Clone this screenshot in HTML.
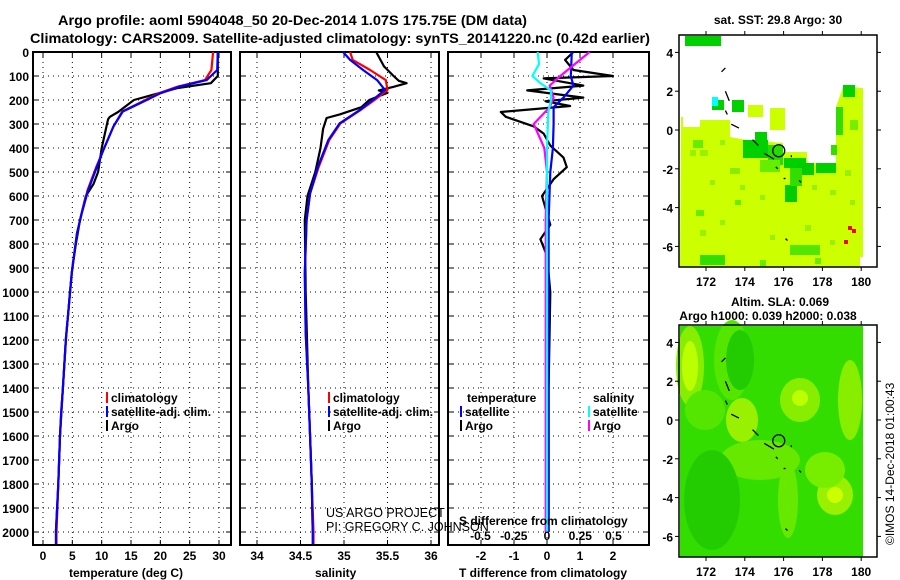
<!DOCTYPE html>
<html><head><meta charset="utf-8"><style>
html,body{margin:0;padding:0;background:#fff;}
svg{display:block;font-family:"Liberation Sans",sans-serif;}
.tk{font-size:12px;font-weight:bold;fill:#000;}
.ttl{font-size:14px;font-weight:bold;fill:#000;}
.lg{font-size:12px;font-weight:bold;fill:#000;}
.cr{font-size:12.5px;font-weight:normal;fill:#000;}
</style></head><body>
<svg id="c" width="900" height="580" viewBox="0 0 900 580">
<text class="ttl" x="58" y="25" textLength="469" lengthAdjust="spacingAndGlyphs">Argo profile: aoml 5904048_50 20-Dec-2014 1.07S 175.75E (DM data)</text>
<text class="ttl" x="30" y="43" textLength="620" lengthAdjust="spacingAndGlyphs">Climatology: CARS2009. Satellite-adjusted climatology: synTS_20141220.nc (0.42d earlier)</text>
<g id="g"></g>
</svg>
<script>
const depthT = [0,75,117,144,172,214,248,311,408,478,575,672,755,922,1089,1193,1400,1500,1600,1800,2000,2050];
const tempSat = [29.8,29.7,27.9,23.3,20,16.5,13.6,12,10.3,9.2,7.7,6.6,5.8,4.9,4.3,3.9,3.4,3.1,2.9,2.6,2.2,2.2];
const tempClim = [29.0,28.7,27.6,23.0,19.7,16.3,13.5,12,10.3,9.1,7.6,6.6,5.8,4.9,4.3,3.9,3.4,3.1,2.9,2.6,2.3,2.3];
const depthTA = [0,100,130,150,180,200,250,270,280,300,400,500,550,600,700,800,900,1000,1200,1400,1600,1800,2000];
const tempArgo = [29.8,29.8,28.6,23,18.5,15.5,12.8,11.4,11.1,10.9,10,9.4,8.6,7.3,6.3,5.6,5,4.6,3.9,3.4,2.9,2.6,2.2];

const depthS = [0,33,75,117,158,200,242,297,367,478,589,700,922,1172,1400,1600,1800,2000,2050];
const salSat = [34.99,35.07,35.22,35.38,35.47,35.33,35.18,34.95,34.82,34.70,34.61,34.57,34.55,34.56,34.59,34.61,34.63,34.64,34.64];
const salClim = [35.07,35.10,35.30,35.48,35.50,35.35,35.19,34.96,34.83,34.71,34.61,34.57,34.55,34.56,34.59,34.61,34.63,34.65,34.65];
const depthSA = [0,60,100,120,130,145,160,170,200,230,260,275,320,400,500,600,700,1000,1400,1800,2000];
const salArgo = [35.37,35.46,35.57,35.63,35.72,35.57,35.40,35.50,35.29,35.20,34.95,34.80,34.76,34.73,34.67,34.58,34.55,34.56,34.59,34.63,34.64];

const depthD = [0,33,75,100,110,140,160,190,205,225,250,270,310,340,390,440,480,530,600,720,780,850,1000,1400,2000];
const dTArgo = [0.8,0.55,0.8,2.0,-0.1,1.1,-0.6,1.1,-0.05,0.7,-1.4,-1.25,-0.4,-0.1,0.1,0.5,0.6,0.2,-0.15,0.1,-0.2,0,0.1,0.05,0.05];
const depthD2 = [0,100,140,190,230,300,400,500,700,1000,1500,2000];
const dTSat = [0.75,0.72,0.8,0.5,0.2,0.2,0.18,0.1,0.05,0.05,0.05,0.05];
const dSArgo = [0.32,0.1,0.02,0.05,0.02,-0.1,-0.02,0.0,-0.01,-0.01,-0.01,-0.01];
const depthD3 = [0,50,100,130,160,200,250,400,1000,2000];
const dSSat = [-0.07,-0.06,-0.11,-0.05,0.03,0.03,0.01,0.0,0.0,0.0];

const depthTicks = [0,100,200,300,400,500,600,700,800,900,1000,1100,1200,1300,1400,1500,1600,1700,1800,1900,2000];
const tTicks = [0,5,10,15,20,25,30];
const sTicks = [34,34.5,35,35.5,36];
const sTickLabels = ["34","34.5","35","35.5","36"];
const dtTicks = [-2,-1,0,1,2];
const dsTicks = [-0.5,-0.25,0,0.25,0.5];
const dsTickLabels = ["-0.5","-0.25","0","0.25","0.5"];
const lonTicks = [172,174,176,178,180];
const latTicks = [4,2,0,-2,-4,-6];

const NS="http://www.w3.org/2000/svg";
const G=document.getElementById('g');
function mk(t,a,p){const e=document.createElementNS(NS,t);for(const k in a)e.setAttribute(k,a[k]);(p||G).appendChild(e);return e;}
const yD=d=>52+0.24*d;
const P1={l:33,r:231,x:v=>43+(v)*5.867};
const P2={l:240,r:439,x:v=>257+(v-34)*87};
const P3={l:448,r:649,x:v=>547+v*33};
const xS3=v=>547+v*133;
const yTop=52,yBot=545;

function frame(P,name,xt,xl,xf){
  const g=mk('g',{});
  
  
  depthTicks.forEach(d=>{if(d>0){const l=mk('line',{x1:P.l,x2:P.r,y1:yD(d),y2:yD(d),stroke:'#000','stroke-width':1,'stroke-dasharray':'1,4'},g);
    
    }
    mk('line',{x1:P.l,x2:P.l+5,y1:yD(d),y2:yD(d),stroke:'#000'},g);mk('line',{x1:P.r-5,x2:P.r,y1:yD(d),y2:yD(d),stroke:'#000'},g);});
  xt.forEach((v,i)=>{const x=xf(v);
    const l=mk('line',{x1:x,x2:x,y1:yTop,y2:yBot,stroke:'#000','stroke-width':1,'stroke-dasharray':'1,4'},g);
    
    
    mk('line',{x1:x,x2:x,y1:yTop,y2:yTop+5,stroke:'#000'},g);mk('line',{x1:x,x2:x,y1:yBot-5,y2:yBot,stroke:'#000'},g);
    const t=mk('text',{x:x,y:560,'text-anchor':'middle',class:'tk'},g);t.textContent=xl[i];
    
    });
  mk('rect',{x:P.l,y:yTop,width:P.r-P.l,height:yBot-yTop,fill:'none',stroke:'#000','stroke-width':2},g);
  return g;
}
function line(xs,ds,xf,col,name,w){
  const pts=[];for(let i=0;i<xs.length;i++){pts.push(xf(xs[i]).toFixed(1)+','+yD(ds[i]).toFixed(1));}
  const p=mk('polyline',{points:pts.join(' '),fill:'none',stroke:col,'stroke-width':w||2.2,'stroke-linejoin':'round'});
  
  
}
function txt(s,x,y,cls,name,anchor){const t=mk('text',{x:x,y:y,class:cls||'lg','text-anchor':anchor||'start'});t.textContent=s;
  
  return t;}

depthTicks.forEach(d=>{const t=mk('text',{x:29,y:yD(d)+5,'text-anchor':'end',class:'tk'});t.textContent=d;
  
  });

frame(P1,'temperature-panel',tTicks,tTicks.map(String),P1.x);
frame(P2,'salinity-panel',sTicks,sTickLabels,P2.x);
frame(P3,'difference-panel',dtTicks,dtTicks.map(String),P3.x);

line(tempArgo,depthTA,P1.x,'#000','temperature-argo-line');
line(tempClim,depthT,P1.x,'#f00','temperature-climatology-line');
line(tempSat,depthT,P1.x,'#00f','temperature-satellite-line');
line(salArgo,depthSA,P2.x,'#000','salinity-argo-line');
line(salClim,depthS,P2.x,'#f00','salinity-climatology-line');
line(salSat,depthS,P2.x,'#00f','salinity-satellite-line');
line(dTArgo,depthD,P3.x,'#000','t-diff-argo-line');
line(dTSat,depthD2,P3.x,'#00f','t-diff-satellite-line');
line(dSArgo,depthD2,xS3,'#f0f','s-diff-argo-line');
line(dSSat,depthD3,xS3,'#0ff','s-diff-satellite-line');

dsTicks.forEach((v,i)=>{const t=mk('text',{x:xS3(v),y:540,'text-anchor':'middle',class:'tk'});t.textContent=dsTickLabels[i];
  
  });
txt('S difference from climatology',459,525,'lg','s-diff-axis-title');
txt('temperature (deg C)',69,577,'lg','temperature-axis-title');
txt('salinity',315,577,'lg','salinity-axis-title');
txt('T difference from climatology',459,577,'lg','t-diff-axis-title');

function leg(x,y,col,s,name){const r=mk('rect',{x:x,y:y-10,width:2,height:11,fill:col});
  
  
  txt(s,x+5,y,'lg',name);}
leg(106,402,'#f00','climatology','legend-climatology');
leg(106,416,'#00f','satellite-adj. clim.','legend-satellite-adj');
leg(106,430,'#000','Argo','legend-argo');
leg(328,402,'#f00','climatology','legend2-climatology');
leg(328,416,'#00f','satellite-adj. clim.','legend2-satellite-adj');
leg(328,430,'#000','Argo','legend2-argo');
txt('temperature',467,402,'lg','legend3-temperature-title');
leg(460,416,'#00f','satellite','legend3-t-satellite');
leg(460,430,'#000','Argo','legend3-t-argo');
txt('salinity',593,402,'lg','legend3-salinity-title');
leg(588,416,'#0ff','satellite','legend3-s-satellite');
leg(588,430,'#f0f','Argo','legend3-s-argo');
txt('US ARGO PROJECT',326,517,'cr','credit-project');
txt('PI: GREGORY C. JOHNSON',326,531,'cr','credit-pi');

const M={l:679,r:877,x:v=>706+(v-172)*19.4};
function mapFrame(t0,name){
  const g=mk('g',{});
  
  
  const y0=t0,y1=t0+232,yLat=v=>t0+95-v*19.4;
  return {g,y0,y1,yLat};
}
function mapAxes(m){
  const g=m.g;
  mk('rect',{x:M.l,y:m.y0,width:M.r-M.l,height:m.y1-m.y0,fill:'none',stroke:'#000','stroke-width':1.5},g);
  lonTicks.forEach(v=>{const x=M.x(v);mk('line',{x1:x,x2:x,y1:m.y0-4,y2:m.y0,stroke:'#000'},g);mk('line',{x1:x,x2:x,y1:m.y1,y2:m.y1+4,stroke:'#000'},g);
    const t=mk('text',{x:x,y:m.y1+19,'text-anchor':'middle',class:'tk'},g);t.textContent=v;
    
    });
  latTicks.forEach(v=>{const y=m.yLat(v);mk('line',{x1:M.l-4,x2:M.l,y1:y,y2:y,stroke:'#000'},g);mk('line',{x1:M.r,x2:M.r+4,y1:y,y2:y,stroke:'#000'},g);
    const t=mk('text',{x:673,y:y+5,'text-anchor':'end',class:'tk'},g);t.textContent=v;
    
    });
  const c=mk('circle',{cx:M.x(175.75),cy:m.yLat(-1.07),r:6,fill:'none',stroke:'#000','stroke-width':1.3},g);
  
  
  [[173,3.2,172.8,3],[173,2,173.2,1.5],[173,1,173.1,0.8],[173.3,0.3,173.7,0.1],[174.4,-0.5,174.7,-0.8],[175,-1.2,175.5,-1.5],[175.6,-1.9,175.7,-2],[176,-2.5,176.1,-2.5],[176.4,-1.3,176.4,-1.4],[176.8,-2.6,176.9,-2.7],[176.1,-5.6,176.2,-5.7]].forEach(a=>{
    mk('line',{x1:M.x(a[0]),y1:m.yLat(a[1]),x2:M.x(a[2]),y2:m.yLat(a[3]),stroke:'#000','stroke-width':1.3},g);});
}
const m1=mapFrame(35,'sst-map');
const st1=mk('text',{x:778,y:24,'text-anchor':'middle',class:'lg'});st1.textContent='sat. SST: 29.8 Argo: 30';


mk('polygon',{points:'681,117 683,117 683,127 700,127 700,120 730,120 730,137 747,140 783,143 783,152 807,152 807,163 836,163 836,107 843,87 863,88 863,257 860,257 860,267 680,267',fill:'#ccff00'},m1.g);
const cells=[[685,36,36,10,'#00d000'],[712,100,12,10,'#00d000'],[732,100,12,12,'#00d000'],[712,97,6,9,'#00ffff'],[770,108,15,22,'#ccff00'],[748,105,15,12,'#ccff00'],[843,85,12,12,'#00d000'],[836,107,7,28,'#33dd00'],[743,140,25,18,'#00d000'],[755,132,12,8,'#00d000'],[768,145,15,20,'#22dd00'],[784,158,22,10,'#00d000'],[796,163,18,12,'#00cc00'],[816,163,20,10,'#00d000'],[785,185,12,17,'#00cc00'],[790,168,12,18,'#33dd00'],[760,160,20,12,'#66ee00'],[693,140,10,8,'#66ee00'],[700,150,8,6,'#99f000'],[730,168,10,6,'#88ee00'],[831,145,6,10,'#33dd00'],[850,120,8,10,'#77ee00'],[700,255,25,10,'#33dd00'],[735,200,6,5,'#66ee00'],[790,245,30,10,'#55e600'],[696,210,8,6,'#66ee00'],[690,150,6,6,'#99f000'],[710,180,5,5,'#99f000'],[720,140,5,5,'#99f000'],[740,185,5,5,'#99f000'],[760,195,5,5,'#99f000'],[812,185,5,5,'#99f000'],[830,190,6,5,'#99f000'],[845,170,6,6,'#99f000'],[850,200,5,5,'#99f000'],[700,230,6,6,'#99f000'],[720,220,5,5,'#99f000'],[770,235,5,5,'#99f000'],[805,225,6,6,'#99f000'],[830,240,5,5,'#99f000'],[760,260,6,6,'#66ee00'],[815,258,6,6,'#66ee00']];
cells.forEach(c=>mk('rect',{x:c[0],y:c[1],width:c[2],height:c[3],fill:c[4]},m1.g));
[[848,226],[852,229],[844,240]].forEach(p=>mk('rect',{x:p[0],y:p[1],width:4,height:4,fill:'#f00'},m1.g));
mapAxes(m1);
const m2=mapFrame(325,'sla-map');
const st2=mk('text',{x:780,y:306,'text-anchor':'middle',class:'lg'});st2.textContent='Altim. SLA: 0.069';


const st3=mk('text',{x:768,y:320,'text-anchor':'middle',class:'lg'});st3.textContent='Argo h1000: 0.039 h2000: 0.038';


mk('rect',{x:680,y:326,width:183,height:231,fill:'#33dd00'},m2.g);
[[690,366,14,40,'#88ee00'],[690,366,8,25,'#bbff00'],[742,420,16,22,'#99f000'],[800,400,20,22,'#88ee00'],[800,398,8,8,'#bbff00'],[835,495,18,20,'#99f000'],[835,495,8,8,'#ccff00'],[788,500,10,38,'#66e800'],[732,360,18,40,'#55e600'],[850,400,12,40,'#88ee00'],[825,470,20,18,'#77ee00'],[760,460,40,20,'#66e800'],[705,410,20,20,'#55e600']].forEach(e=>
  mk('ellipse',{cx:e[0],cy:e[1],rx:e[2],ry:e[3],fill:e[4]},m2.g));
mk('ellipse',{cx:712,cy:500,rx:28,ry:50,fill:'#22cc00'},m2.g);
mk('ellipse',{cx:740,cy:360,rx:14,ry:30,fill:'#22cc00'},m2.g);
mapAxes(m2);
const dt=mk('text',{x:0,y:0,transform:'translate(894,545) rotate(-90)','font-size':'12px'});dt.textContent='©IMOS 14-Dec-2018 01:00:43';


</script>
</body></html>
